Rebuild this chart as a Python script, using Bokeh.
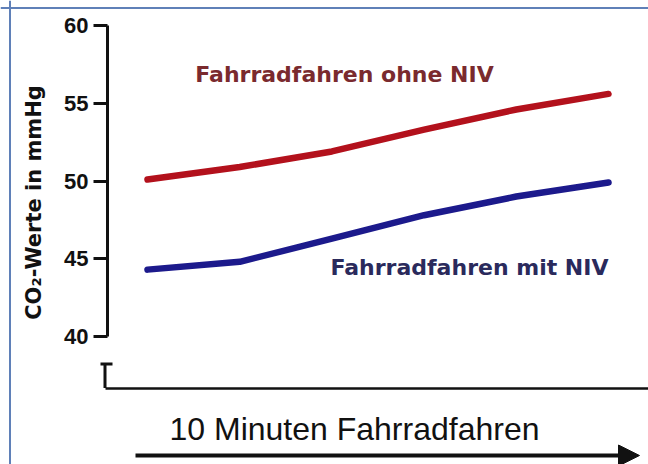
import math
from bokeh.plotting import figure
from bokeh.models import (Range1d, LinearAxis, FixedTicker, Arrow, NormalHead, Span)
from bokeh.core.properties import value
from bokeh.embed import file_html
from bokeh.resources import INLINE

# ---- data (minutes of cycling, CO2 in mmHg) ----
minutes = [0, 2, 4, 6, 8, 10]
ohne_niv = [50.1, 50.9, 51.9, 53.3, 54.6, 55.6]
mit_niv = [44.3, 44.8, 46.3, 47.8, 49.0, 49.9]
y_ticks = [40, 45, 50, 55, 60]
label_ohne = "Fahrradfahren ohne NIV"
label_mit = "Fahrradfahren mit NIV"
x_title = "10 Minuten Fahrradfahren"
y_title = "CO\u2082-Werte in mmHg"

# ---- layout helpers (picture pixels -> data units) ----
W, H = 648, 464
PAGE_OFF = 0
X0_PX, X_PER_MIN = 147.0, 46.1
Y60_PX, Y_PER_UNIT = 25.0, 15.55


def xd(px):
    return (px - X0_PX) / X_PER_MIN


def yd(py):
    return 60 - (py - Y60_PX) / Y_PER_UNIT


p = figure(width=W, height=H, output_backend="svg", toolbar_location=None,
           x_axis_location=None, y_axis_location=None,
           x_range=Range1d(xd(PAGE_OFF), xd(PAGE_OFF + W)),
           y_range=Range1d(yd(PAGE_OFF + H), yd(PAGE_OFF)),
           min_border=0, min_border_left=0, min_border_right=0,
           min_border_top=0, min_border_bottom=0)
p.outline_line_color = None
p.background_fill_color = "white"
p.border_fill_color = "white"
p.xgrid.visible = False
p.ygrid.visible = False

# frame border of the original picture (top and left)
frame_col = "#5f80b8"
p.add_layout(Span(location=xd(9.5), dimension="height", line_color=frame_col, line_width=2))
p.add_layout(Span(location=yd(7.5), dimension="width", line_color=frame_col, line_width=2))

# y axis
yaxis = LinearAxis(fixed_location=xd(107), bounds=(y_ticks[0], y_ticks[-1]),
                   ticker=FixedTicker(ticks=y_ticks))
yaxis.axis_line_width = 3
yaxis.axis_line_color = "#111111"
yaxis.major_tick_line_width = 3
yaxis.major_tick_line_color = "#111111"
yaxis.major_tick_out = 14
yaxis.major_tick_in = 0
yaxis.minor_tick_line_color = None
yaxis.major_label_text_font = "Liberation Sans"
yaxis.major_label_text_font_style = "bold"
yaxis.major_label_text_font_size = "22px"
yaxis.major_label_text_color = "#111111"
yaxis.major_label_standoff = 5
p.add_layout(yaxis, "left")

# x axis (offset, Prism style, no ticks)
x_axis_y = yd(387.5)
x_left = xd(104.5)
xaxis = LinearAxis(fixed_location=x_axis_y, bounds=(x_left, xd(PAGE_OFF + W)),
                   ticker=FixedTicker(ticks=[]))
xaxis.axis_line_width = 2.5
xaxis.axis_line_color = "#111111"
xaxis.major_tick_line_color = None
xaxis.minor_tick_line_color = None
xaxis.major_label_text_font_size = "0px"
p.add_layout(xaxis, "below")

# small T mark at the start of the x axis
t_top = yd(363.5)
p.segment(x0=[x_left, xd(100)], y0=[x_axis_y, t_top], x1=[x_left, xd(112)], y1=[t_top, t_top],
          line_color="#111111", line_width=3)

# data lines
p.line(minutes, ohne_niv, line_color="#b3111c", line_width=6.5, line_cap="round", line_join="round")
p.line(minutes, mit_niv, line_color="#1c1a8c", line_width=6.5, line_cap="round", line_join="round")

# series labels
p.text(x=[xd(344)], y=[yd(74)], text=[label_ohne], text_font=value("DejaVu Sans"),
       text_font_style="bold", text_font_size="22px", text_color="#7a2a2e",
       text_align="center", text_baseline="middle")
p.text(x=[xd(469)], y=[yd(266.5)], text=[label_mit], text_font=value("DejaVu Sans"),
       text_font_style="bold", text_font_size="22px", text_color="#2a2a5c",
       text_align="center", text_baseline="middle")

# y title
p.text(x=[xd(33)], y=[yd(202)], text=[y_title], angle=math.pi / 2,
       text_font=value("DejaVu Sans"), text_font_style="bold", text_font_size="21px",
       text_color="#111111", text_align="center", text_baseline="middle")

# x title
p.text(x=[xd(354)], y=[yd(428)], text=[x_title], text_font=value("Liberation Sans"),
       text_font_size="32px", text_color="#111111", text_align="center",
       text_baseline="alphabetic")

# time arrow
p.add_layout(Arrow(x_start=xd(135), y_start=yd(455), x_end=xd(639), y_end=yd(455),
                   line_width=4, line_color="#111111",
                   end=NormalHead(size=21, fill_color="#111111", line_color="#111111")))

open("out.html", "w").write(file_html(p, INLINE))
